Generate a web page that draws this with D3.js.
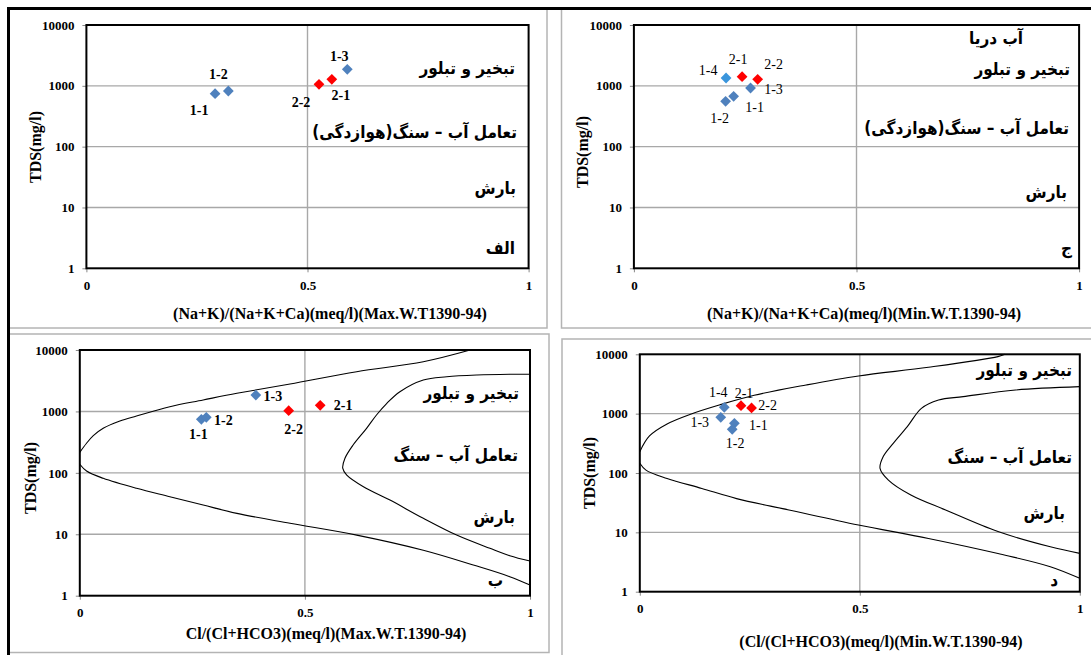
<!DOCTYPE html>
<html lang="fa">
<head>
<meta charset="UTF-8">
<title>Gibbs diagrams</title>
<script src="https://d3js.org/d3.v7.min.js"></script>
<style>
    body { margin: 0; background: #fff; }
    .tick text { font: bold 13px "Liberation Serif", serif; fill: #000; }
    .tick line { stroke: #888; }
    .axis-title { font: bold 16px "Liberation Serif", serif; fill: #000; }
    .zone { font: bold 17px "DejaVu Sans Condensed", "DejaVu Sans", sans-serif; fill: #000; }
    .grid { stroke: #a8a8a8; stroke-width: 1.4; }
    .curve { fill: none; stroke: #000; stroke-width: 1.1; }
</style>
</head>
<body>
<script>
    // sample names
    const namesMax = ["1-1", "1-2", "1-3", "2-1", "2-2"];
    const namesMin = ["1-1", "1-2", "1-3", "1-4", "2-1", "2-2"];

    // (Na+K)/(Na+K+Ca) vs TDS
    const cationMax = [0.291, 0.321, 0.590, 0.555, 0.526];
    const tdsCationMax = [743, 822, 1867, 1279, 1059];
    const cationMin = [0.224, 0.206, 0.262, 0.207, 0.243, 0.278];
    const tdsCationMin = [672, 556, 921, 1345, 1415, 1279];

    // Cl/(Cl+HCO3) vs TDS
    const anionMax = [0.270, 0.281, 0.391, 0.534, 0.464];
    const tdsAnionMax = [743, 801, 1850, 1256, 1028];
    const anionMin = [0.215, 0.210, 0.184, 0.192, 0.230, 0.254];
    const tdsAnionMin = [687, 545, 867, 1279, 1364, 1247];

    // Gibbs boundary curves
    const upperMax = [[0, 216], [0.015, 303], [0.030, 403], [0.052, 531], [0.089, 698], [0.126, 842],
        [0.200, 1194], [0.274, 1535], [0.349, 1971], [0.467, 2800], [0.615, 4436], [0.763, 6446], [0.867, 10000]];
    const lowerMax = [[0, 138], [0.015, 107], [0.052, 81.5], [0.126, 56], [0.200, 40.9], [0.274, 29.9],
        [0.349, 21.9], [0.467, 15.1], [0.615, 9.7], [0.763, 5.5], [0.874, 3.16], [0.955, 2.04], [1, 1.49]];
    const innerMax = [[1, 4020], [0.955, 4020], [0.882, 3917], [0.815, 3670], [0.763, 3245], [0.711, 2094],
        [0.682, 1355], [0.659, 875], [0.637, 531], [0.607, 284], [0.589, 173], [0.584, 119], [0.593, 92],
        [0.630, 59.5], [0.689, 36], [0.763, 18.2], [0.837, 9.7], [0.911, 5.9], [0.955, 4.48], [1, 3.67]];

    const upperMin = [[0, 229], [0.022, 421], [0.062, 670], [0.117, 987], [0.181, 1400], [0.260, 2037],
        [0.378, 3042], [0.497, 4317], [0.656, 6040], [0.814, 9135], [0.83, 10000]];
    const lowerMin = [[0, 146], [0.014, 112], [0.062, 81], [0.141, 55], [0.220, 37], [0.339, 23.8],
        [0.497, 13.3], [0.656, 7.9], [0.814, 4.4], [0.933, 2.64], [1, 1.68]];
    const innerMin = [[1, 2851], [0.854, 2506], [0.735, 1936], [0.679, 1700], [0.640, 1230], [0.608, 604],
        [0.576, 316], [0.553, 188], [0.546, 120], [0.565, 76], [0.616, 42.6], [0.695, 23.8], [0.814, 10.3],
        [0.933, 5.7], [1, 4.43]];

    const yTicks = [1, 10, 100, 1000, 10000];
    const xTicks = [0, 0.5, 1];
    const gridY = [10, 100, 1000];

    const zoneEvap = "تبخیر و تبلور";
    const zoneRockLong = "تعامل آب – سنگ(هوازدگی)";
    const zoneRock = "تعامل آب – سنگ";
    const zoneRain = "بارش";
    const zoneSea = "آب دریا";

    const panels = [
        {
            names: namesMax, xs: cationMax, ys: tdsCationMax, bold: true,
            box: [86.4, 25, 528.6, 268.3],
            xTitle: "(Na+K)/(Na+K+Ca)(meq/l)(Max.W.T1390-94)", xTitlePos: [330, 319],
            yTitlePos: [35, 147],
            zones: [[zoneEvap, 515, 68], [zoneRockLong, 517, 132], [zoneRain, 516, 188], ["الف", 515, 248]],
            offsets: { "1-1": [-16, 16], "1-2": [-10, -17], "1-3": [-8, -13], "2-2": [-18, 18], "2-1": [9, 16] },
            curves: []
        },
        {
            names: namesMin, xs: cationMin, ys: tdsCationMin, bold: false,
            box: [633.9, 25, 1079.1, 268.3],
            xTitle: "(Na+K)/(Na+K+Ca)(meq/l)(Min.W.T.1390-94)", xTitlePos: [864, 319],
            yTitlePos: [582, 152],
            zones: [[zoneSea, 1023, 38], [zoneEvap, 1070, 69], [zoneRockLong, 1069, 128], [zoneRain, 1067, 192], ["ج", 1072, 248]],
            offsets: { "1-4": [-18, -8], "2-1": [-4, -18], "2-2": [16, -15], "1-3": [23, 1], "1-1": [21, 11], "1-2": [-6, 17] },
            curves: []
        },
        {
            names: namesMax, xs: anionMax, ys: tdsAnionMax, bold: true,
            box: [79.8, 350, 530, 595.7],
            xTitle: "Cl/(Cl+HCO3)(meq/l)(Max.W.T.1390-94)", xTitlePos: [326, 639],
            yTitlePos: [30, 478],
            zones: [[zoneEvap, 519, 393], [zoneRock, 518, 455], [zoneRain, 515, 517], ["ب", 503, 580]],
            offsets: { "1-1": [-3, 15], "1-2": [17, 3], "1-3": [17, 1], "2-2": [5, 18], "2-1": [23, 0] },
            curves: [upperMax, lowerMax, innerMax]
        },
        {
            names: namesMin, xs: anionMin, ys: tdsAnionMin, bold: false,
            box: [639.8, 354.3, 1079.8, 591.7],
            xTitle: "(Cl/(Cl+HCO3)(meq/l)(Min.W.T.1390-94)", xTitlePos: [881, 647],
            yTitlePos: [589, 473],
            zones: [[zoneEvap, 1072, 370], [zoneRock, 1072, 457], [zoneRain, 1065, 513], ["د", 1058, 580]],
            offsets: { "1-4": [-6, -15], "2-1": [3, -13], "2-2": [16, -3], "1-3": [-21, 5], "1-1": [24, 2], "1-2": [3, 14] },
            curves: [upperMin, lowerMin, innerMin]
        }
    ];

    const svg = d3.select("body").append("svg")
        .attr("width", 1091)
        .attr("height", 655);

    // panel frames
    const frames = [[8, 8, 547, 328], [561.5, 9, 1100, 328], [8, 334, 549, 652.5], [562, 339, 1100, 660]];
    frames.forEach(f => {
        svg.append("rect")
            .attr("x", f[0]).attr("y", f[1])
            .attr("width", f[2] - f[0]).attr("height", f[3] - f[1])
            .attr("fill", "none").attr("stroke", "#b4b4b4").attr("stroke-width", 1.5);
    });
    svg.append("path")
        .attr("d", "M8.5,660 L8.5,8.5 L1100,8.5")
        .attr("fill", "none").attr("stroke", "#000").attr("stroke-width", 3);

    const marker = d3.symbol().type(d3.symbolSquare).size(58);

    panels.forEach(p => {
        const [x0, y0, x1, y1] = p.box;
        const x = d3.scaleLinear().domain([0, 1]).range([x0, x1]);
        const y = d3.scaleLog().domain([1, 10000]).range([y1, y0]);
        const g = svg.append("g");

        // gridlines
        g.selectAll(".gy").data(gridY).enter().append("line")
            .attr("class", "grid")
            .attr("x1", x0).attr("x2", x1)
            .attr("y1", d => y(d)).attr("y2", d => y(d));
        g.append("line").attr("class", "grid")
            .attr("x1", x(0.5)).attr("x2", x(0.5))
            .attr("y1", y0).attr("y2", y1);

        // axes
        g.append("g")
            .attr("transform", `translate(${x0},0)`)
            .call(d3.axisLeft(y).tickValues(yTicks).tickFormat(d3.format("d")).tickSize(4).tickPadding(8))
            .call(a => a.select(".domain").remove());
        g.append("g")
            .attr("transform", `translate(0,${y1})`)
            .call(d3.axisBottom(x).tickValues(xTicks).tickFormat(d => String(d)).tickSize(4).tickPadding(8))
            .call(a => a.select(".domain").remove());

        // boundary curves
        const line = d3.line()
            .x(d => x(d[0]))
            .y(d => y(d[1]))
            .curve(d3.curveCatmullRom.alpha(0.5));
        p.curves.forEach(c => {
            g.append("path").attr("class", "curve").attr("d", line(c));
        });

        // plot border
        g.append("rect")
            .attr("x", x0).attr("y", y0)
            .attr("width", x1 - x0).attr("height", y1 - y0)
            .attr("fill", "none").attr("stroke", "#000").attr("stroke-width", 2);

        // zone labels (Persian)
        p.zones.forEach(z => {
            g.append("text")
                .attr("class", "zone")
                .attr("x", z[1]).attr("y", z[2])
                .attr("dy", "0.35em")
                .attr("direction", "rtl")
                .attr("text-anchor", "start")
                .text(z[0]);
        });

        // points
        p.names.forEach((n, i) => {
            let color = n.startsWith("2") ? "#ff0000" : "#4f81bd";
            if (n === "1-4" && !p.curves.length) color = "#3a95dc";
            const px = x(p.xs[i]), py = y(p.ys[i]);
            g.append("path")
                .attr("d", marker())
                .attr("transform", `translate(${px},${py}) rotate(45)`)
                .attr("fill", color);
            const off = p.offsets[n];
            g.append("text")
                .attr("x", px + off[0]).attr("y", py + off[1])
                .attr("dy", "0.35em")
                .attr("text-anchor", "middle")
                .style("font", `${p.bold ? "bold " : ""}14px "Liberation Serif", serif`)
                .text(n);
        });

        // titles
        g.append("text")
            .attr("class", "axis-title")
            .attr("x", p.xTitlePos[0]).attr("y", p.xTitlePos[1])
            .attr("text-anchor", "middle")
            .text(p.xTitle);
        g.append("text")
            .attr("class", "axis-title")
            .attr("transform", `translate(${p.yTitlePos[0]},${p.yTitlePos[1]}) rotate(-90)`)
            .attr("dy", "0.35em")
            .attr("text-anchor", "middle")
            .text("TDS(mg/l)");
    });
</script>
</body>
</html>
